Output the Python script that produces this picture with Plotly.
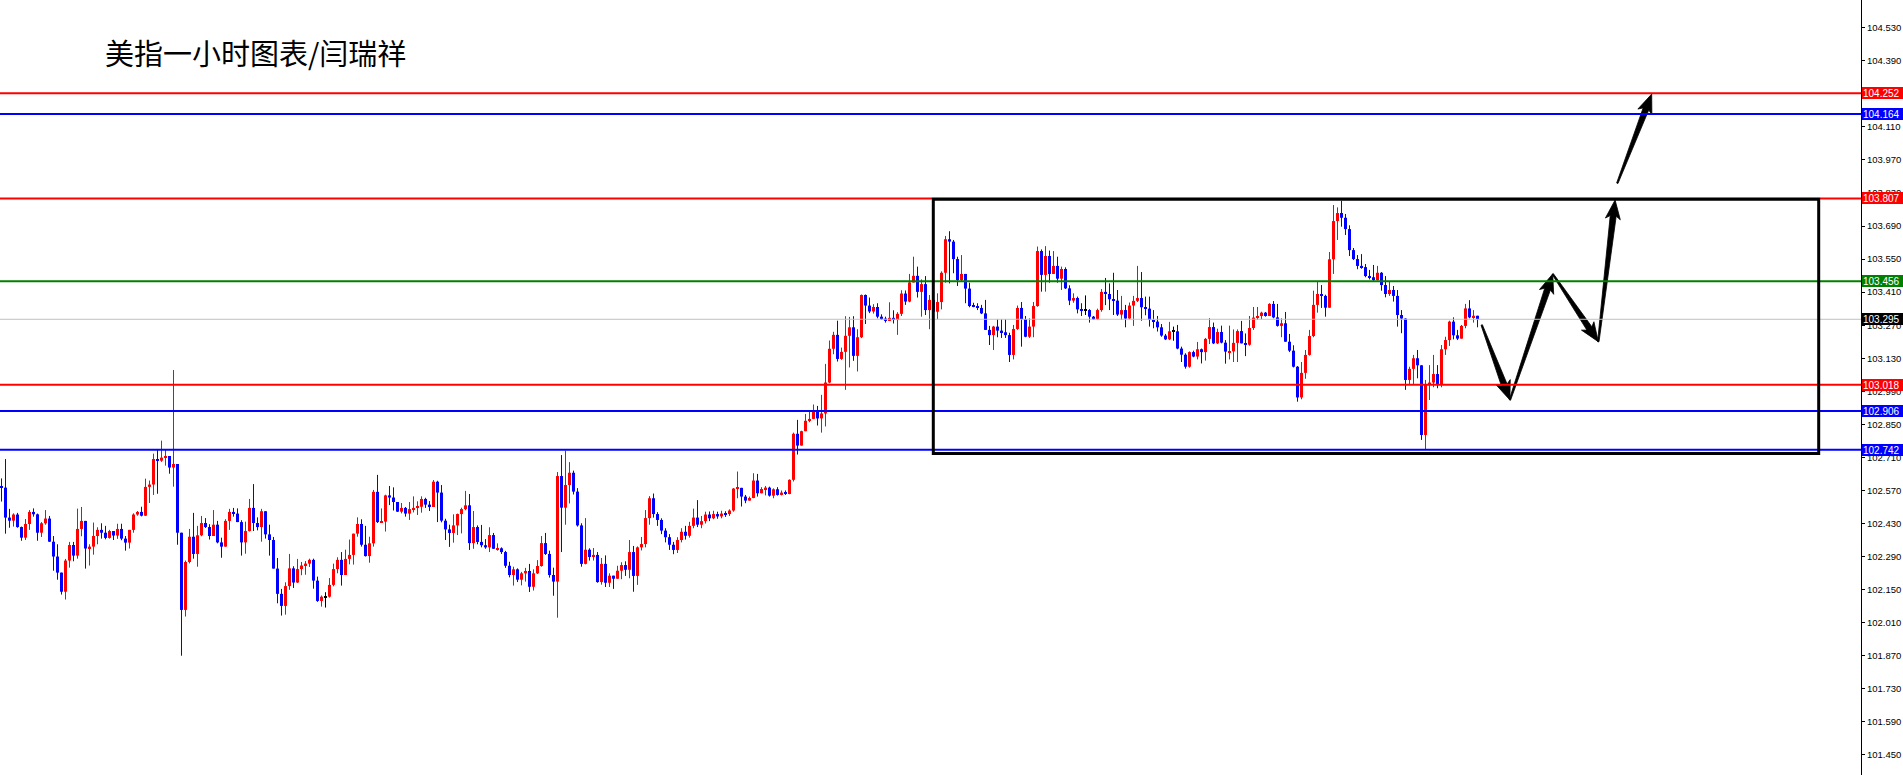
import math
import plotly.graph_objects as go

# ---------------- data (USD index, 1h) ----------------
first_open = 102.589
closes = [
    102.582, 102.455, 102.442, 102.468, 102.415, 102.370, 102.428, 102.479, 102.469, 102.391,
    102.431, 102.451, 102.353, 102.290, 102.222, 102.141, 102.273, 102.339, 102.294, 102.407,
    102.441, 102.324, 102.332, 102.377, 102.403, 102.391, 102.369, 102.398, 102.379, 102.407,
    102.366, 102.349, 102.403, 102.468, 102.479, 102.463, 102.585, 102.595, 102.703, 102.696,
    102.709, 102.716, 102.667, 102.682, 102.391, 102.064, 102.267, 102.374, 102.301, 102.380,
    102.432, 102.415, 102.377, 102.425, 102.350, 102.332, 102.441, 102.479, 102.472, 102.436,
    102.350, 102.398, 102.496, 102.432, 102.415, 102.482, 102.384, 102.360, 102.239, 102.132,
    102.081, 102.165, 102.240, 102.180, 102.237, 102.252, 102.260, 102.276, 102.188, 102.102,
    102.120, 102.120, 102.170, 102.237, 102.276, 102.212, 102.280, 102.297, 102.387, 102.428,
    102.340, 102.292, 102.346, 102.564, 102.436, 102.438, 102.549, 102.540, 102.521, 102.480,
    102.496, 102.472, 102.491, 102.496, 102.501, 102.534, 102.510, 102.500, 102.607, 102.561,
    102.442, 102.405, 102.390, 102.422, 102.470, 102.491, 102.507, 102.347, 102.415, 102.352,
    102.338, 102.329, 102.381, 102.323, 102.325, 102.309, 102.251, 102.212, 102.236, 102.192,
    102.219, 102.229, 102.162, 102.219, 102.250, 102.347, 102.301, 102.212, 102.184, 102.631,
    102.497, 102.593, 102.645, 102.565, 102.422, 102.259, 102.319, 102.288, 102.297, 102.182,
    102.259, 102.179, 102.209, 102.196, 102.230, 102.254, 102.234, 102.309, 102.208, 102.329,
    102.343, 102.453, 102.537,
    102.470, 102.445, 102.400, 102.372, 102.340, 102.318, 102.360, 102.395, 102.378, 102.420,
    102.455, 102.425, 102.440, 102.468, 102.452, 102.470, 102.460, 102.472, 102.470, 102.485,
    102.578, 102.581, 102.544, 102.527, 102.538, 102.612, 102.558,
    102.576, 102.582, 102.548, 102.575, 102.551, 102.561, 102.555, 102.615, 102.810, 102.760,
    102.821, 102.865, 102.873, 102.903, 102.875, 102.896, 103.027, 103.170, 103.229, 103.127,
    103.157, 103.225, 103.261, 103.140, 103.219, 103.398, 103.353, 103.328, 103.347, 103.306,
    103.298, 103.288, 103.301, 103.292, 103.318, 103.404, 103.370, 103.451, 103.479, 103.411,
    103.444, 103.334, 103.377, 103.327, 103.368, 103.492, 103.634, 103.624, 103.550, 103.461,
    103.487, 103.425, 103.351, 103.348, 103.343, 103.320, 103.250, 103.228, 103.264, 103.247,
    103.240, 103.228, 103.144, 103.254, 103.343, 103.296, 103.221, 103.264, 103.351, 103.584,
    103.483, 103.563, 103.487, 103.521, 103.467, 103.508, 103.426, 103.374, 103.385, 103.337,
    103.334, 103.334, 103.306, 103.295, 103.334, 103.411, 103.402, 103.380, 103.374, 103.315,
    103.334, 103.298, 103.353, 103.373, 103.385, 103.346, 103.340, 103.292, 103.285, 103.261,
    103.226, 103.210, 103.244, 103.244, 103.171, 103.145, 103.094, 103.156, 103.137, 103.168,
    103.156, 103.212, 103.262, 103.193, 103.241, 103.196, 103.158, 103.159, 103.195, 103.245,
    103.193, 103.187, 103.258, 103.302, 103.309, 103.323, 103.309, 103.360, 103.303, 103.267,
    103.278, 103.200, 103.162, 103.094, 102.964, 103.068, 103.144, 103.224, 103.356, 103.402,
    103.394, 103.344, 103.549, 103.711, 103.745, 103.725, 103.677, 103.588, 103.550, 103.521,
    103.516, 103.478, 103.473, 103.461, 103.492, 103.440, 103.402, 103.419, 103.394, 103.313,
    103.298, 103.038, 103.085, 103.130, 103.100, 102.805, 103.017, 103.027, 103.063, 103.018,
    103.168, 103.207, 103.285, 103.227, 103.213, 103.267, 103.341, 103.303, 103.310, 103.296,
]
highs = [
    102.621, 102.703, 102.492, 102.473, 102.475, 102.417, 102.449, 102.487, 102.494, 102.472,
    102.436, 102.487, 102.462, 102.377, 102.342, 102.222, 102.280, 102.352, 102.352, 102.493,
    102.500, 102.441, 102.342, 102.434, 102.414, 102.431, 102.420, 102.403, 102.396, 102.429,
    102.429, 102.377, 102.403, 102.473, 102.483, 102.501, 102.620, 102.612, 102.726, 102.744,
    102.781, 102.741, 102.716, 103.080, 102.682, 102.391, 102.273, 102.407, 102.475, 102.420,
    102.462, 102.453, 102.427, 102.487, 102.441, 102.370, 102.448, 102.492, 102.496, 102.494,
    102.444, 102.438, 102.534, 102.597, 102.456, 102.492, 102.482, 102.425, 102.373, 102.284,
    102.153, 102.181, 102.301, 102.249, 102.280, 102.267, 102.271, 102.281, 102.281, 102.205,
    102.125, 102.139, 102.199, 102.260, 102.287, 102.309, 102.319, 102.362, 102.387, 102.456,
    102.448, 102.420, 102.374, 102.572, 102.636, 102.494, 102.552, 102.589, 102.583, 102.521,
    102.517, 102.500, 102.521, 102.545, 102.524, 102.545, 102.539, 102.525, 102.614, 102.611,
    102.593, 102.450, 102.425, 102.469, 102.472, 102.497, 102.568, 102.555, 102.483, 102.422,
    102.424, 102.364, 102.414, 102.390, 102.346, 102.329, 102.314, 102.268, 102.247, 102.240,
    102.225, 102.242, 102.259, 102.236, 102.275, 102.377, 102.390, 102.315, 102.243, 102.648,
    102.720, 102.738, 102.690, 102.654, 102.580, 102.431, 102.453, 102.325, 102.326, 102.309,
    102.284, 102.295, 102.219, 102.209, 102.251, 102.266, 102.270, 102.360, 102.335, 102.333,
    102.373, 102.487, 102.546,
    102.557, 102.478, 102.452, 102.410, 102.385, 102.352, 102.372, 102.410, 102.420, 102.437,
    102.493, 102.529, 102.462, 102.480, 102.481, 102.484, 102.480, 102.484, 102.482, 102.490,
    102.580, 102.650, 102.576, 102.551, 102.544, 102.643, 102.640,
    102.584, 102.589, 102.586, 102.579, 102.584, 102.570, 102.570, 102.617, 102.815, 102.869,
    102.823, 102.894, 102.904, 102.934, 102.928, 102.975, 103.106, 103.205, 103.242, 103.289,
    103.175, 103.308, 103.305, 103.308, 103.253, 103.400, 103.400, 103.387, 103.359, 103.363,
    103.316, 103.306, 103.367, 103.333, 103.325, 103.418, 103.417, 103.487, 103.560, 103.518,
    103.464, 103.478, 103.398, 103.400, 103.405, 103.498, 103.648, 103.668, 103.631, 103.560,
    103.567, 103.487, 103.450, 103.365, 103.363, 103.356, 103.377, 103.267, 103.267, 103.295,
    103.295, 103.295, 103.238, 103.271, 103.353, 103.368, 103.309, 103.299, 103.368, 103.603,
    103.591, 103.605, 103.586, 103.584, 103.560, 103.518, 103.515, 103.439, 103.405, 103.391,
    103.363, 103.396, 103.338, 103.309, 103.340, 103.423, 103.470, 103.447, 103.492, 103.419,
    103.394, 103.356, 103.366, 103.394, 103.521, 103.495, 103.391, 103.391, 103.334, 103.309,
    103.275, 103.233, 103.284, 103.264, 103.271, 103.179, 103.151, 103.159, 103.162, 103.199,
    103.171, 103.216, 103.300, 103.281, 103.255, 103.268, 103.207, 103.268, 103.252, 103.252,
    103.288, 103.235, 103.309, 103.347, 103.347, 103.327, 103.326, 103.363, 103.372, 103.360,
    103.299, 103.326, 103.233, 103.185, 103.097, 103.114, 103.165, 103.250, 103.416, 103.456,
    103.440, 103.399, 103.580, 103.779, 103.769, 103.797, 103.741, 103.693, 103.597, 103.567,
    103.571, 103.529, 103.504, 103.525, 103.521, 103.495, 103.478, 103.454, 103.436, 103.419,
    103.334, 103.299, 103.094, 103.144, 103.165, 103.101, 103.038, 103.101, 103.144, 103.101,
    103.186, 103.221, 103.289, 103.303, 103.250, 103.271, 103.360, 103.376, 103.334, 103.310,
]
lows = [
    102.523, 102.387, 102.412, 102.417, 102.412, 102.357, 102.360, 102.403, 102.459, 102.357,
    102.373, 102.425, 102.352, 102.230, 102.192, 102.129, 102.108, 102.243, 102.270, 102.281,
    102.376, 102.239, 102.252, 102.298, 102.342, 102.366, 102.363, 102.366, 102.360, 102.365,
    102.359, 102.315, 102.324, 102.391, 102.463, 102.460, 102.462, 102.517, 102.551, 102.556,
    102.691, 102.675, 102.641, 102.586, 102.340, 101.870, 102.036, 102.261, 102.281, 102.247,
    102.376, 102.411, 102.362, 102.377, 102.346, 102.285, 102.335, 102.403, 102.459, 102.436,
    102.294, 102.302, 102.396, 102.398, 102.401, 102.353, 102.366, 102.294, 102.239, 102.092,
    102.040, 102.044, 102.149, 102.157, 102.178, 102.211, 102.213, 102.246, 102.154, 102.098,
    102.078, 102.074, 102.116, 102.164, 102.219, 102.167, 102.212, 102.257, 102.256, 102.374,
    102.332, 102.290, 102.264, 102.332, 102.432, 102.435, 102.396, 102.508, 102.485, 102.479,
    102.473, 102.459, 102.445, 102.477, 102.466, 102.476, 102.496, 102.483, 102.500, 102.436,
    102.435, 102.360, 102.331, 102.349, 102.381, 102.388, 102.486, 102.318, 102.323, 102.342,
    102.329, 102.323, 102.309, 102.322, 102.315, 102.301, 102.242, 102.202, 102.167, 102.182,
    102.168, 102.184, 102.140, 102.146, 102.216, 102.247, 102.297, 102.201, 102.124, 102.031,
    102.309, 102.425, 102.515, 102.553, 102.417, 102.247, 102.257, 102.273, 102.273, 102.179,
    102.171, 102.161, 102.161, 102.153, 102.196, 102.194, 102.208, 102.198, 102.141, 102.170,
    102.316, 102.329, 102.425,
    102.455, 102.420, 102.385, 102.350, 102.318, 102.300, 102.305, 102.350, 102.362, 102.370,
    102.410, 102.415, 102.410, 102.430, 102.440, 102.448, 102.450, 102.452, 102.458, 102.462,
    102.480, 102.537, 102.502, 102.516, 102.527, 102.537, 102.544,
    102.558, 102.549, 102.544, 102.537, 102.548, 102.549, 102.551, 102.554, 102.608, 102.722,
    102.760, 102.821, 102.859, 102.872, 102.845, 102.815, 102.841, 103.024, 103.147, 103.116,
    103.123, 102.996, 103.091, 103.119, 103.074, 103.215, 103.275, 103.321, 103.319, 103.299,
    103.292, 103.281, 103.289, 103.277, 103.229, 103.309, 103.356, 103.367, 103.451, 103.387,
    103.306, 103.313, 103.253, 103.290, 103.295, 103.337, 103.450, 103.447, 103.490, 103.436,
    103.454, 103.363, 103.346, 103.346, 103.334, 103.317, 103.250, 103.186, 103.165, 103.219,
    103.216, 103.216, 103.114, 103.125, 103.250, 103.179, 103.219, 103.216, 103.219, 103.348,
    103.412, 103.412, 103.450, 103.487, 103.450, 103.419, 103.423, 103.355, 103.365, 103.320,
    103.309, 103.313, 103.281, 103.292, 103.292, 103.327, 103.355, 103.334, 103.313, 103.309,
    103.292, 103.261, 103.295, 103.267, 103.368, 103.289, 103.312, 103.264, 103.257, 103.243,
    103.221, 103.207, 103.207, 103.204, 103.168, 103.114, 103.086, 103.090, 103.134, 103.125,
    103.108, 103.120, 103.190, 103.190, 103.190, 103.193, 103.107, 103.125, 103.114, 103.114,
    103.193, 103.139, 103.183, 103.250, 103.292, 103.295, 103.306, 103.309, 103.299, 103.264,
    103.219, 103.200, 103.156, 103.091, 102.946, 102.956, 103.043, 103.141, 103.219, 103.323,
    103.343, 103.306, 103.348, 103.487, 103.631, 103.687, 103.652, 103.563, 103.546, 103.507,
    103.509, 103.473, 103.464, 103.456, 103.459, 103.416, 103.388, 103.394, 103.370, 103.264,
    103.236, 102.996, 103.021, 103.021, 103.045, 102.784, 102.744, 102.953, 103.007, 103.003,
    103.007, 103.144, 103.182, 103.210, 103.207, 103.213, 103.257, 103.299, 103.281, 103.261,
]
opens = [first_open] + closes[:-1]

level_prices = [104.252, 104.164, 103.807, 103.456, 103.018, 102.906, 102.742]
level_colors = ["#FF0000", "#0000FF", "#FF0000", "#008000", "#FF0000", "#0000FF", "#0000FF"]
bid_price = 103.295

tick_labels = ["104.530", "104.390", "104.250", "104.110", "103.970", "103.830", "103.690",
               "103.550", "103.410", "103.270", "103.130", "102.990", "102.850", "102.710",
               "102.570", "102.430", "102.290", "102.150", "102.010", "101.870", "101.730",
               "101.590", "101.450"]

# range box (bar index, price)
box_x = [232.95, 454.3]
box_y = [102.727, 103.803]

# forecast arrows (bar index, price)
arrow_chain = [(370.05, 103.271), (377.1, 102.953), (387.8, 103.487), (399.2, 103.200), (403.4, 103.800)]
arrow_last = [(403.95, 103.871), (412.55, 104.249)]

title_text = "美指一小时图表/闫瑞祥"

# ---------------- layout constants ----------------
W, H = 1903, 775
MR = 42
x_range = [-0.375, 464.875]
y_range = [101.3648, 104.6473]
plot_w = W - MR
px_x = plot_w / (x_range[1] - x_range[0])
px_y = H / (y_range[1] - y_range[0])

UP, DOWN, DOJI = "#FF0000", "#0000FF", "#000000"

n = min(len(closes), len(highs), len(lows))
idx = list(range(n))
colors, bases, heights = [], [], []
min_h = 1.0 / px_y
wick = {UP: ([], []), DOWN: ([], []), DOJI: ([], [])}
for i in idx:
    o, c, hi, lo = opens[i], closes[i], highs[i], lows[i]
    col = UP if c > o else (DOWN if c < o else DOJI)
    colors.append(col)
    bot = min(o, c)
    hgt = abs(c - o)
    if hgt < min_h:
        bot = (o + c) / 2 - min_h / 2
        hgt = min_h
    bases.append(bot)
    heights.append(hgt)
    wx, wy = wick[col]
    wx += [i, i, None]
    wy += [min(lo, bot), max(hi, bot + hgt), None]

fig = go.Figure()
for col, (wx, wy) in wick.items():
    if wx:
        fig.add_trace(go.Scatter(x=wx, y=wy, mode="lines", line=dict(color=col, width=1),
                                 hoverinfo="skip", showlegend=False))
fig.add_trace(go.Bar(x=idx, y=heights, base=bases, width=0.75,
                     marker=dict(color=colors, line=dict(width=0)),
                     hoverinfo="skip", showlegend=False))


def arrow_polygon(p0, p1, w0=0.7, w1=3.0, head_len=19, head_w=7.5):
    x0, y0 = p0[0] * px_x, p0[1] * px_y
    x1, y1 = p1[0] * px_x, p1[1] * px_y
    dx, dy = x1 - x0, y1 - y0
    L = math.hypot(dx, dy)
    ux, uy = dx / L, dy / L
    nx, ny = -uy, ux
    bx, by = x1 - ux * head_len, y1 - uy * head_len
    nb = 3.0  # slight notch in the arrowhead base
    cx, cy = bx + ux * nb, by + uy * nb
    pts = [(x0 + nx * w0, y0 + ny * w0), (cx + nx * w1, cy + ny * w1),
           (bx + nx * head_w, by + ny * head_w), (x1, y1),
           (bx - nx * head_w, by - ny * head_w), (cx - nx * w1, cy - ny * w1),
           (x0 - nx * w0, y0 - ny * w0), (x0 + nx * w0, y0 + ny * w0)]
    return [p[0] / px_x for p in pts], [p[1] / px_y for p in pts]


segments = list(zip(arrow_chain[:-1], arrow_chain[1:])) + [(arrow_last[0], arrow_last[1])]
for a, b in segments:
    ax_, ay_ = arrow_polygon(a, b)
    fig.add_trace(go.Scatter(x=ax_, y=ay_, mode="lines", fill="toself", fillcolor="#000000",
                             line=dict(color="#000000", width=0.8), hoverinfo="skip",
                             showlegend=False))

shapes = []
shapes.append(dict(type="line", xref="paper", x0=0, x1=1, yref="y", y0=bid_price, y1=bid_price,
                   line=dict(color="#C0C0C0", width=1), layer="above"))
for p, c in zip(level_prices, level_colors):
    shapes.append(dict(type="line", xref="paper", x0=0, x1=1, yref="y", y0=p, y1=p,
                       line=dict(color=c, width=2), layer="above"))
shapes.append(dict(type="rect", xref="x", yref="y", x0=box_x[0], x1=box_x[1], y0=box_y[0], y1=box_y[1],
                   line=dict(color="#000000", width=3), fillcolor="rgba(0,0,0,0)", layer="above"))

label_font = dict(family="Liberation Sans, Arial, sans-serif", size=10, color="#FFFFFF")
annotations = []
for p, c in list(zip(level_prices, level_colors)) + [(bid_price, "#000000")]:
    annotations.append(dict(text=f"{p:.3f}", xref="paper", x=1, xanchor="left", xshift=1,
                            yref="y", y=p, yanchor="middle", showarrow=False,
                            bgcolor=c, font=label_font, width=39, height=10, borderpad=1,
                            borderwidth=0, align="left"))
annotations.append(dict(text=title_text, xref="paper", x=103 / plot_w, xanchor="left",
                        yref="paper", y=1 - 52 / H, yanchor="middle", showarrow=False,
                        font=dict(family="Noto Sans CJK SC", size=29, color="#000000")))

fig.update_layout(
    template="none",
    width=W, height=H,
    margin=dict(l=0, r=MR, t=0, b=0),
    paper_bgcolor="#FFFFFF", plot_bgcolor="#FFFFFF",
    showlegend=False, hovermode=False,
    shapes=shapes, annotations=annotations,
    xaxis=dict(range=x_range, visible=False, showgrid=False, zeroline=False, automargin=False),
    yaxis=dict(range=y_range, side="right", tickmode="array",
               tickvals=[float(t) for t in tick_labels], ticktext=tick_labels,
               showgrid=False, zeroline=False, showline=True, linecolor="#000000", linewidth=1,
               ticks="outside", ticklen=3, tickwidth=1, tickcolor="#000000",
               tickfont=dict(family="Liberation Sans, Arial, sans-serif", size=9.5, color="#000000"),
               automargin=False),
)

fig.write_html("out.html", config={"displayModeBar": False},
               post_script="document.body.style.margin='0px';document.body.style.padding='0px';"
                           "document.body.style.overflow='hidden';")
